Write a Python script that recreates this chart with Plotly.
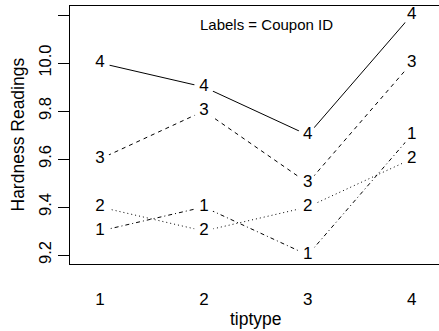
import plotly.graph_objects as go

tiptype = [1, 2, 3, 4]
coupon_ids = ["1", "2", "3", "4"]
coupon1 = [9.3, 9.4, 9.2, 9.7]
coupon2 = [9.4, 9.3, 9.4, 9.6]
coupon3 = [9.6, 9.8, 9.5, 10.0]
coupon4 = [10.0, 9.9, 9.7, 10.2]
series = [coupon1, coupon2, coupon3, coupon4]
y_ticks = [9.2, 9.4, 9.6, 9.8, 10.0, 10.2]
y_tick_text = ["9.2", "9.4", "9.6", "9.8", "10.0", ""]
dashes = ["1px,3px,4px,3px", "1px,3px", "4px,4px", "solid"]

FONT = "Liberation Sans, Arial, Helvetica, sans-serif"

fig = go.Figure()
for cid, vals, dash in zip(coupon_ids, series, dashes):
    fig.add_trace(go.Scatter(
        x=tiptype, y=vals, mode="lines+markers+text",
        text=[cid] * len(vals), textposition="middle center",
        textfont=dict(family=FONT, size=17, color="black"),
        line=dict(color="black", width=1, dash=dash),
        marker=dict(symbol="circle", size=20, color="white", line=dict(width=0)),
        cliponaxis=False, showlegend=False, hoverinfo="skip",
    ))

W, H = 439, 331
L, R, T, B = 70, 0, 6, 67
fig.update_layout(
    width=W, height=H,
    margin=dict(l=L, r=R, t=T, b=B, pad=0),
    paper_bgcolor="white", plot_bgcolor="white",
    font=dict(family=FONT, color="black"),
    xaxis=dict(
        range=[0.711, 4.263], tickmode="array", tickvals=tiptype,
        ticktext=[str(t) for t in tiptype],
        showgrid=False, zeroline=False,
        showline=True, linecolor="black", linewidth=1, mirror=True,
        ticks="outside", ticklen=20, tickcolor="rgba(0,0,0,0)",
        tickfont=dict(family=FONT, size=17, color="black"),
    ),
    yaxis=dict(
        range=[9.1625, 10.2375], tickmode="array", tickvals=y_ticks,
        ticktext=y_tick_text, tickangle=-90,
        showgrid=False, zeroline=False,
        showline=True, linecolor="black", linewidth=1, mirror=False,
        ticks="outside", ticklen=11, tickcolor="black", tickwidth=1,
        tickfont=dict(family=FONT, size=16.5, color="black"),
    ),
    annotations=[
        dict(text="Labels = Coupon ID", x=2.598, y=10.16, xref="x", yref="y",
             showarrow=False, xanchor="center", yanchor="middle",
             font=dict(family=FONT, size=15, color="black")),
        dict(text="tiptype", x=(255.5 - L) / (W - L - R), y=-(319 - 264) / 258,
             xref="paper", yref="paper", showarrow=False,
             xanchor="center", yanchor="middle",
             font=dict(family=FONT, size=17.5, color="black")),
        dict(text="Hardness Readings", x=(17.5 - L) / (W - L - R), y=0.5,
             xref="paper", yref="paper", showarrow=False, textangle=-90,
             xanchor="center", yanchor="middle",
             font=dict(family=FONT, size=17.5, color="black")),
    ],
)

fig.write_html(
    "out.html",
    config={"displayModeBar": False, "staticPlot": True},
    post_script="document.body.style.margin='0';document.body.style.overflow='hidden';",
)
